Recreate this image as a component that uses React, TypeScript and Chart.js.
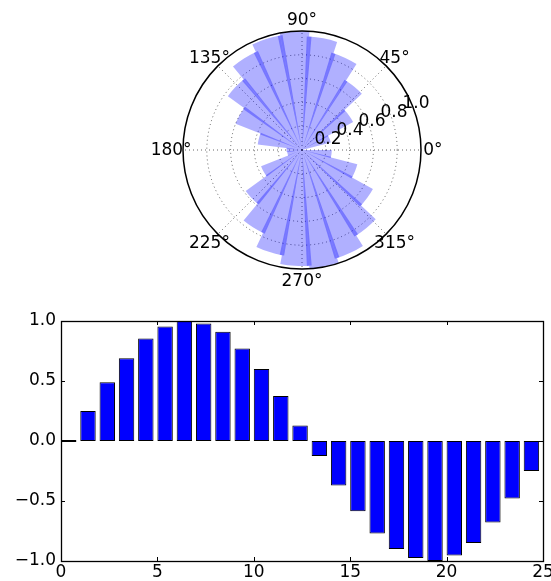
import React, { useEffect, useRef } from "react";
import { Chart, registerables } from "chart.js";

Chart.register(...registerables);

// ---- data ----
const barCategories = [0, 1, 2, 3, 4, 5, 6, 7, 8, 9, 10, 11, 12, 13, 14, 15, 16, 17, 18, 19, 20, 21, 22, 23, 24];
const barValues = [0, 0.25, 0.49, 0.69, 0.855, 0.955, 1.0, 0.98, 0.91, 0.77, 0.6, 0.375, 0.13, -0.125, -0.37, -0.585, -0.77, -0.9, -0.975, -1.0, -0.955, -0.85, -0.68, -0.48, -0.25];
const barWidth = 0.8;
const xTickValues = [0, 5, 10, 15, 20, 25];
const yTickValues = [-1.0, -0.5, 0.0, 0.5, 1.0];

const polarRadii = [0, 0.25, 0.49, 0.69, 0.855, 0.955, 1.0, 0.98, 0.91, 0.77, 0.6, 0.375, 0.13, 0.125, 0.37, 0.585, 0.77, 0.9, 0.975, 1.0, 0.955, 0.85, 0.68, 0.48, 0.25];
const angleTickDegrees = [0, 45, 90, 135, 180, 225, 270, 315];
const angleTickLabels = ["0°", "45°", "90°", "135°", "180°", "225°", "270°", "315°"];
const radialTickValues = [0.2, 0.4, 0.6, 0.8, 1.0];
const radialTickLabels = ["0.2", "0.4", "0.6", "0.8", "1.0"];
const radialLabelAngle = 22.5;

const FONT = "'DejaVu Sans', sans-serif";
const FONT_SIZE = 17;

const polarDecor = {
  id: "polarDecor",
  beforeDatasetsDraw(chart: any) {
    const s = chart.scales.r;
    const ctx = chart.ctx as CanvasRenderingContext2D;
    const cx = s.xCenter, cy = s.yCenter;
    const R = s.getDistanceFromCenterForValue(1);
    ctx.save();
    ctx.strokeStyle = "rgba(0,0,0,0.6)";
    ctx.lineWidth = 1;
    ctx.setLineDash([1, 3]);
    for (const v of radialTickValues.slice(0, -1)) {
      const r = s.getDistanceFromCenterForValue(v);
      ctx.beginPath();
      ctx.arc(cx, cy, r, 0, Math.PI * 2);
      ctx.stroke();
    }
    for (const deg of angleTickDegrees) {
      const a = (-deg * Math.PI) / 180;
      ctx.beginPath();
      ctx.moveTo(cx, cy);
      ctx.lineTo(cx + R * Math.cos(a), cy + R * Math.sin(a));
      ctx.stroke();
    }
    ctx.restore();
  },
  afterDatasetsDraw(chart: any) {
    const s = chart.scales.r;
    const ctx = chart.ctx as CanvasRenderingContext2D;
    const cx = s.xCenter, cy = s.yCenter;
    const R = s.getDistanceFromCenterForValue(1);
    const arcs = chart.getDatasetMeta(0).data;
    const n = arcs.length;
    const d = 0.042;
    ctx.save();
    ctx.fillStyle = "rgba(0,0,255,0.33)";
    for (let i = 0; i < n; i++) {
      const a: any = arcs[i];
      const b: any = arcs[(i + 1) % n];
      const rr = Math.min(a.outerRadius, b.outerRadius);
      if (!(rr > 0)) continue;
      const ang = a.endAngle;
      ctx.beginPath();
      ctx.moveTo(cx, cy);
      ctx.arc(cx, cy, rr, ang - d / 2, ang + d / 2);
      ctx.closePath();
      ctx.fill();
    }
    // outer spine
    ctx.strokeStyle = "#000";
    ctx.lineWidth = 1.5;
    ctx.beginPath();
    ctx.arc(cx, cy, R, 0, Math.PI * 2);
    ctx.stroke();
    // labels
    ctx.fillStyle = "#000";
    ctx.font = `${FONT_SIZE}px ${FONT}`;
    ctx.textAlign = "center";
    ctx.textBaseline = "middle";
    const LR = R * 1.1;
    angleTickDegrees.forEach((deg, i) => {
      const a = (-deg * Math.PI) / 180;
      ctx.fillText(angleTickLabels[i], cx + LR * Math.cos(a), cy + LR * Math.sin(a) + 1);
    });
    const ra = (-radialLabelAngle * Math.PI) / 180;
    radialTickValues.forEach((v, i) => {
      const r = s.getDistanceFromCenterForValue(v);
      ctx.fillText(radialTickLabels[i], cx + r * Math.cos(ra) + 4, cy + r * Math.sin(ra) - 1);
    });
    ctx.restore();
  },
};

const frameDecor = {
  id: "frameDecor",
  afterDraw(chart: any) {
    const ctx = chart.ctx as CanvasRenderingContext2D;
    const { left, right, top, bottom } = chart.chartArea;
    const xs = chart.scales.x, ys = chart.scales.y;
    ctx.save();
    ctx.strokeStyle = "#000";
    ctx.lineWidth = 1;
    const tl = 4;
    ctx.beginPath();
    for (const v of xTickValues) {
      const px = Math.round(xs.getPixelForValue(v)) + 0.5;
      ctx.moveTo(px, top);
      ctx.lineTo(px, top + tl);
      ctx.moveTo(px, bottom);
      ctx.lineTo(px, bottom - tl);
    }
    for (const v of yTickValues) {
      const py = Math.round(ys.getPixelForValue(v)) + 0.5;
      ctx.moveTo(left, py);
      ctx.lineTo(left + tl, py);
      ctx.moveTo(right, py);
      ctx.lineTo(right - tl, py);
    }
    ctx.stroke();
    ctx.lineWidth = 1.3;
    ctx.strokeRect(Math.round(left) + 0.5, Math.round(top) + 0.5, Math.round(right - left), Math.round(bottom - top));
    ctx.restore();
  },
};

export default function App() {
  const polarRef = useRef<HTMLCanvasElement>(null);
  const barRef = useRef<HTMLCanvasElement>(null);

  useEffect(() => {
    Chart.defaults.font.family = FONT;
    Chart.defaults.font.size = FONT_SIZE;
    Chart.defaults.color = "#000";

    const polarData = [...polarRadii].reverse();
    const polarLabels = barCategories.map((k) => String(k)).reverse();

    const polar = new Chart(polarRef.current!, {
      type: "polarArea",
      data: {
        labels: polarLabels,
        datasets: [
          {
            data: polarData,
            backgroundColor: "rgba(0,0,255,0.31)",
            borderWidth: 0,
          },
        ],
      },
      options: {
        animation: false,
        responsive: false,
        layout: { padding: { left: 183, top: 31, right: 130, bottom: 21 } },
        plugins: { legend: { display: false }, tooltip: { enabled: false } },
        scales: {
          r: {
            min: 0,
            max: 1,
            startAngle: 90,
            ticks: { display: false },
            grid: { display: false },
            angleLines: { display: false },
            pointLabels: { display: false },
          },
        },
      } as any,
      plugins: [polarDecor],
    });

    const bar = new Chart(barRef.current!, {
      type: "bar",
      data: {
        datasets: [
          {
            data: barCategories.map((k, i) => ({ x: k + barWidth / 2, y: barValues[i] })),
            backgroundColor: "#0000ff",
            borderColor: "#000",
            borderWidth: 1,
            borderSkipped: false,
            barPercentage: barWidth,
            categoryPercentage: 1,
            minBarLength: 2,
          } as any,
        ],
      },
      options: {
        animation: false,
        responsive: false,
        layout: { padding: { left: 0, top: 31, right: 8, bottom: 0 } },
        plugins: { legend: { display: false }, tooltip: { enabled: false } },
        scales: {
          x: {
            type: "linear",
            min: 0,
            max: 25,
            offset: false,
            grid: { display: false, drawTicks: false, offset: false },
            border: { display: false },
            ticks: { stepSize: 5, padding: 1, maxRotation: 0, autoSkip: false, color: "#000" },
            afterFit(s: any) {
              s.height = 20;
              s.paddingLeft = 0;
              s.paddingRight = 0;
            },
          },
          y: {
            min: -1,
            max: 1,
            grid: { display: false, drawTicks: false },
            border: { display: false },
            ticks: {
              stepSize: 0.5,
              padding: 5,
              color: "#000",
              callback: (v: any) => Number(v).toFixed(1).replace("-", "\u2212"),
            },
            afterFit(s: any) {
              s.width = 61;
              s.paddingTop = 0;
              s.paddingBottom = 0;
            },
          },
        },
      } as any,
      plugins: [frameDecor],
    });

    return () => {
      polar.destroy();
      bar.destroy();
    };
  }, []);

  return (
    <div style={{ position: "absolute", left: 0, top: 0, width: 551, height: 581, background: "#fff" }}>
      <canvas ref={polarRef} width={551} height={290} style={{ position: "absolute", left: 0, top: 0, display: "block" }} />
      <canvas ref={barRef} width={551} height={291} style={{ position: "absolute", left: 0, top: 290, display: "block" }} />
    </div>
  );
}
